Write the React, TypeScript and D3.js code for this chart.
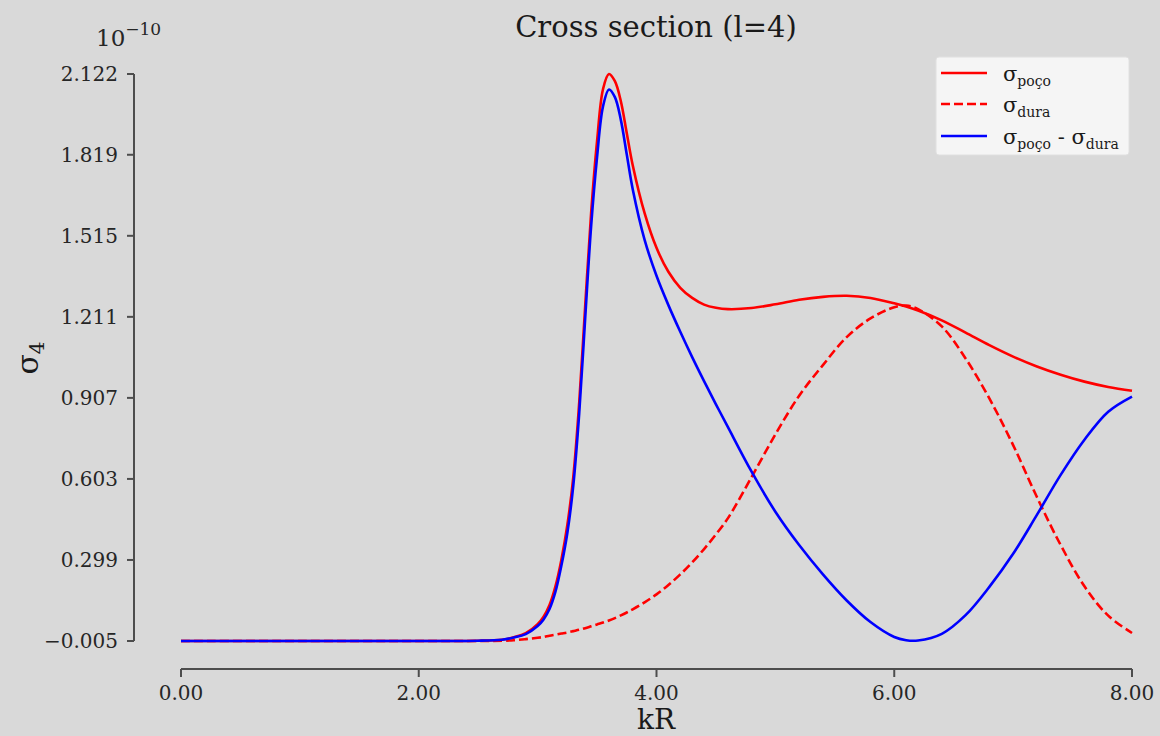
import * as d3 from 'd3';

// kR sample points shared by all three curves
const kR = [
  0, 1, 2, 2.5, 2.7, 2.8, 2.9, 3.0, 3.05, 3.1, 3.15, 3.2, 3.25, 3.3, 3.35, 3.4, 3.45, 3.5, 3.55, 3.6,
  3.65, 3.7, 3.75, 3.8, 3.9, 4.0, 4.1, 4.2, 4.3, 4.4, 4.5, 4.6, 4.8, 5.0, 5.2, 5.4, 5.6, 5.8, 6.0, 6.1,
  6.2, 6.4, 6.6, 6.8, 7.0, 7.2, 7.4, 7.6, 7.8, 8.0,
];

// values in units of 1e-10
const sigmaPoco = [
  -0.005, -0.005, -0.005, -0.004, 0.0, 0.009, 0.024, 0.058, 0.086, 0.13, 0.2, 0.3, 0.43, 0.61, 0.89, 1.25, 1.6, 1.87, 2.065, 2.122,
  2.095, 2.02, 1.9, 1.78, 1.6, 1.47, 1.38, 1.32, 1.282, 1.257, 1.245, 1.24, 1.244, 1.258, 1.275, 1.286, 1.29, 1.282, 1.262, 1.25,
  1.235, 1.198, 1.152, 1.105, 1.062, 1.025, 0.994, 0.968, 0.948, 0.934,
];

const sigmaDura = [
  -0.005, -0.005, -0.005, -0.005, -0.004, -0.002, 0.002, 0.007, 0.01, 0.015, 0.019, 0.023, 0.027, 0.032, 0.037, 0.043, 0.05, 0.057, 0.064, 0.072,
  0.081, 0.091, 0.102, 0.114, 0.14, 0.17, 0.205, 0.245, 0.29, 0.34, 0.395, 0.455, 0.61, 0.77, 0.915, 1.03, 1.135, 1.205, 1.247, 1.253,
  1.24, 1.175, 1.055, 0.905, 0.73, 0.535, 0.355, 0.2, 0.09, 0.025,
];

const sigmaDiff = [
  -0.005, -0.005, -0.005, -0.004, 0.0, 0.008, 0.021, 0.051, 0.076, 0.115, 0.18, 0.278, 0.4, 0.578, 0.85, 1.205, 1.55, 1.81, 2.0, 2.064,
  2.035, 1.95, 1.82, 1.69, 1.5, 1.365, 1.255, 1.155, 1.06, 0.97, 0.883, 0.798, 0.63, 0.48, 0.355, 0.245, 0.147, 0.066, 0.01, -0.002,
  -0.003, 0.022, 0.092, 0.198, 0.322, 0.468, 0.618, 0.75, 0.855, 0.912,
];

const yTicks = [-0.005, 0.299, 0.603, 0.907, 1.211, 1.515, 1.819, 2.122];
const xTicks = [0, 2, 4, 6, 8];

const W = 1160;
const H = 736;
const FONT = '"DejaVu Serif", serif';

const x = d3.scaleLinear().domain([0, 8]).range([181, 1132]);
const y = d3.scaleLinear().domain([-0.005, 2.122]).range([641, 74]);

const line = (vals: number[]) =>
  d3.line<number>()
    .x((_, i) => x(kR[i]))
    .y((d) => y(d))
    .curve(d3.curveCatmullRom.alpha(0.5))(vals) ?? '';

const fmtY = (v: number) => d3.format('.3f')(v).replace('-', '\u2212');

const Sigma = ({ sub, x0, y0 }: { sub: string, x0: number, y0: number }) => (
  <text x={x0} y={y0} fontFamily={FONT} fill="#1a1a1a">
    <tspan fontSize={21}>σ</tspan>
    <tspan fontSize={14} dy={5}>{sub}</tspan>
  </text>
);

export default function App() {
  const legendY = [73, 104, 136];
  return (
    <svg width={W} height={H} style={{ position: 'absolute', left: 0, top: 0, display: 'block' }}>
      <rect width={W} height={H} fill="#d9d9d9" />

      {/* title */}
      <text x={656} y={37} textAnchor="middle" fontFamily={FONT} fontSize={29} fill="#1a1a1a">
        Cross section (l=4)
      </text>

      {/* offset text */}
      <text x={96} y={46} fontFamily={FONT} fill="#262626">
        <tspan fontSize={23}>10</tspan>
        <tspan fontSize={17} dy={-11}>{'\u221210'}</tspan>
      </text>

      {/* y axis */}
      <line x1={134} x2={134} y1={y(yTicks[0])} y2={y(yTicks[yTicks.length - 1])} stroke="#4d4d4d" strokeWidth={2} />
      {yTicks.map((t) => (
        <g key={t} transform={`translate(0,${y(t)})`}>
          <line x1={127} x2={134} stroke="#4d4d4d" strokeWidth={2} />
          <text x={118} dy={7} textAnchor="end" fontFamily={FONT} fontSize={20} fill="#262626">{fmtY(t)}</text>
        </g>
      ))}
      <text transform="translate(38,358) rotate(-90)" textAnchor="middle" fontFamily={FONT} fill="#1a1a1a">
        <tspan fontSize={30}>σ</tspan>
        <tspan fontSize={20} dy={6}>4</tspan>
      </text>

      {/* x axis */}
      <line x1={x(0)} x2={x(8)} y1={669} y2={669} stroke="#4d4d4d" strokeWidth={2} />
      {xTicks.map((t) => (
        <g key={t} transform={`translate(${x(t)},0)`}>
          <line y1={669} y2={677} stroke="#4d4d4d" strokeWidth={2} />
          <text y={700} textAnchor="middle" fontFamily={FONT} fontSize={20} fill="#262626">{d3.format('.2f')(t)}</text>
        </g>
      ))}
      <text x={656} y={729} textAnchor="middle" fontFamily={FONT} fontSize={28} fill="#1a1a1a">kR</text>

      {/* curves */}
      <path d={line(sigmaPoco)} fill="none" stroke="#ff0000" strokeWidth={2.6} />
      <path d={line(sigmaDura)} fill="none" stroke="#ff0000" strokeWidth={2.6} strokeDasharray="9,4" />
      <path d={line(sigmaDiff)} fill="none" stroke="#0000ff" strokeWidth={2.6} />

      {/* legend */}
      <rect x={936} y={57} width={193} height={98} rx={3} fill="#f5f5f5" stroke="#e0e0e0" strokeWidth={1} />
      <line x1={941} x2={987} y1={legendY[0]} y2={legendY[0]} stroke="#ff0000" strokeWidth={2.6} />
      <line x1={941} x2={987} y1={legendY[1]} y2={legendY[1]} stroke="#ff0000" strokeWidth={2.6} strokeDasharray="9,4" />
      <line x1={941} x2={987} y1={legendY[2]} y2={legendY[2]} stroke="#0000ff" strokeWidth={2.6} />
      <Sigma sub="poço" x0={1003} y0={legendY[0] + 8} />
      <Sigma sub="dura" x0={1003} y0={legendY[1] + 8} />
      <text x={1003} y={legendY[2] + 8} fontFamily={FONT} fill="#1a1a1a">
        <tspan fontSize={21}>σ</tspan>
        <tspan fontSize={14} dy={5}>poço</tspan>
        <tspan fontSize={21} dy={-5}>{' - σ'}</tspan>
        <tspan fontSize={14} dy={5}>dura</tspan>
      </text>
    </svg>
  );
}
